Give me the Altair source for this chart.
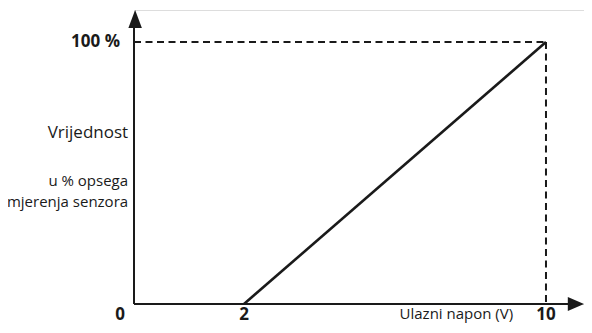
import altair as alt
import pandas as pd

# ---- data ----
line_x = [2, 10]
line_y = [0, 100]

X_MIN, X_MAX = -0.914, 11.007
Y_MIN, Y_MAX = 0, 112.2

# dashed guide lines: (x, y) -> (x2, y2)
dash_x = [X_MIN, 10]
dash_y = [100, 100]
dash_x2 = [10, 10]
dash_y2 = [100, 0]

# axis lines
axis_x = [X_MIN, X_MIN]
axis_y = [0, 0]
axis_x2 = [X_MIN, 10.8]
axis_y2 = [106, 0]

# arrow heads
arrow_x = [X_MIN + 0.03, X_MAX]
arrow_y = [Y_MAX, 0]
arrow_shape = ["M0,0L-0.75,2L0.75,2Z", "M0,0L-1.8,-0.78L-1.8,0.78Z"]

# bold tick labels
tick_text = ["0", "2", "10", "100 %"]
tick_x = [-1.285, 2, 10, -1.285]
tick_y = [-4.2, -4.2, -4.2, 100]
tick_align = ["center", "center", "center", "right"]

# axis titles
title_text = ["Vrijednost", "u % opsega", "mjerenja senzora", "Ulazni napon (V)"]
title_x = [-1.07, -1.07, -1.07, 9.13]
title_y = [65.2, 46.8, 38.9, -4.0]
title_size = [17, 15, 15, 15]
title_align = ["right", "right", "right", "right"]

FONT = "Open Sans"
INK = "#1a1a1a"

xs = alt.Scale(domain=[X_MIN, X_MAX], nice=False, zero=False)
ys = alt.Scale(domain=[Y_MIN, Y_MAX], nice=False, zero=False)

def X(f="x"):
    return alt.X(f, type="quantitative", scale=xs, axis=None)

def Y(f="y"):
    return alt.Y(f, type="quantitative", scale=ys, axis=None)

line = alt.Chart(pd.DataFrame({"x": line_x, "y": line_y})).mark_line(
    color=INK, strokeWidth=2.6
).encode(x=X(), y=Y())

dash = alt.Chart(pd.DataFrame({"x": dash_x, "y": dash_y, "x2": dash_x2, "y2": dash_y2})).mark_rule(
    color=INK, strokeWidth=2, strokeDash=[7, 4.5]
).encode(x=X(), y=Y(), x2="x2:Q", y2="y2:Q")

axes = alt.Chart(pd.DataFrame({"x": axis_x, "y": axis_y, "x2": axis_x2, "y2": axis_y2})).mark_rule(
    color=INK, strokeWidth=2
).encode(x=X(), y=Y(), x2="x2:Q", y2="y2:Q")

arrows = alt.Chart(pd.DataFrame({"x": arrow_x, "y": arrow_y, "s": arrow_shape})).mark_point(
    filled=True, color=INK, opacity=1, size=324
).encode(x=X(), y=Y(), shape=alt.Shape("s:N", scale=None))

texts = []
for t, x, y, a in zip(tick_text, tick_x, tick_y, tick_align):
    texts.append(
        alt.Chart(pd.DataFrame({"x": [x], "y": [y], "t": [t]})).mark_text(
            font=FONT, fontWeight="bold", fontSize=17, color=INK, baseline="middle", align=a
        ).encode(x=X(), y=Y(), text="t:N")
    )
for t, x, y, s, a in zip(title_text, title_x, title_y, title_size, title_align):
    texts.append(
        alt.Chart(pd.DataFrame({"x": [x], "y": [y], "t": [t]})).mark_text(
            font=FONT, fontSize=s, color=INK, baseline="middle", align=a
        ).encode(x=X(), y=Y(), text="t:N")
    )

chart = alt.layer(axes, dash, line, arrows, *texts).properties(
    width=450, height=294,
    autosize=alt.AutoSizeParams(type="none"),
    padding={"left": 126, "top": 2, "right": 0, "bottom": 21},
).configure_view(stroke=None).configure(background="white")

chart.save("out.html", embed_options={"renderer": "svg", "actions": False})
